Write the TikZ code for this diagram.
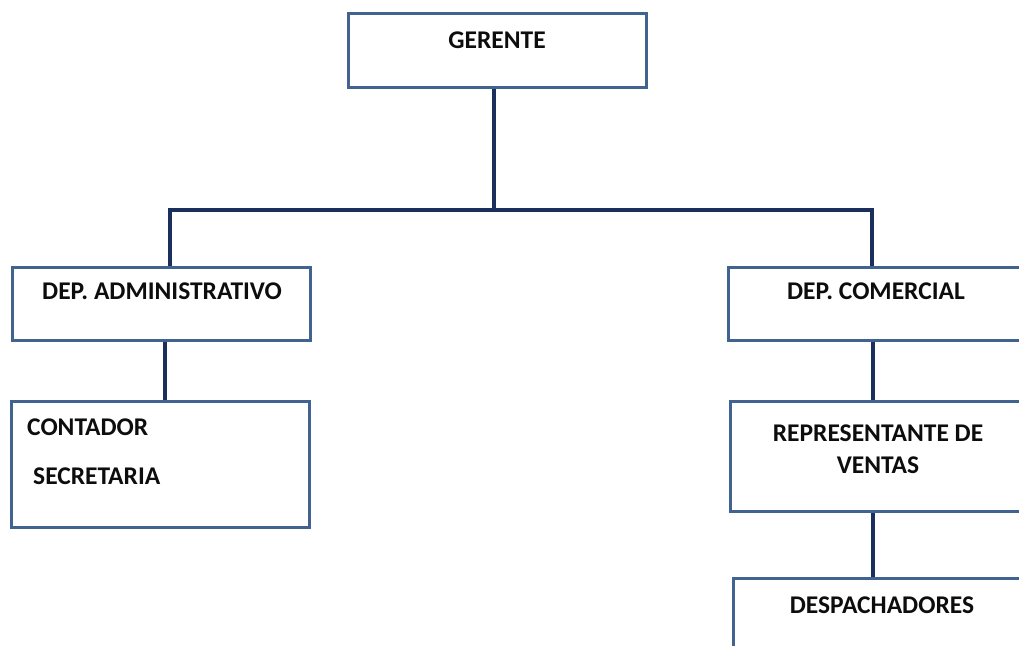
\documentclass[tikz,border=0pt]{standalone}
\usepackage{fontspec}
\setmainfont{Carlito}
\usepackage{tikz}

\definecolor{boxblue}{HTML}{41638F}
\definecolor{linknavy}{HTML}{1B2F5C}

\begin{document}
\begin{tikzpicture}
					[x=1pt,y=-1pt,
					box/.style={rectangle,draw=boxblue,line width=3pt,fill=white,minimum width=298pt,inner sep=0pt},
					txt/.style={font=\bfseries\fontsize{25.5}{32}\selectfont,text=black!95,inner sep=0pt},
					link/.style={draw=linknavy,line width=3.5pt}]
					\clip (0,0) rectangle (1019,645);
					\node[box,minimum height=74pt] (ger) at (497,50) {};
					\node[box,minimum height=73pt] (adm) at (161,303.5) {};
					\node[box,minimum height=126pt] (cont) at (160.5,464) {};
					\node[box,minimum height=73pt] (com) at (877,303.5) {};
					\node[box,minimum height=110pt] (rep) at (879,456) {};
					\node[box,minimum height=120pt] (desp) at (882,638) {};
					\node[txt] (tger) at (497,40) {GERENTE};
					\node[txt] (tadm) at (162,291) {DEP. ADMINISTRATIVO};
					\node[txt,anchor=west] (tcont) at (27,427) {CONTADOR};
					\node[txt,anchor=west] (tsec) at (33,476) {SECRETARIA};
					\node[txt] (tcom) at (876,291) {DEP. COMERCIAL};
					\node[txt,align=center] (trep) at (878,449) {REPRESENTANTE DE\\VENTAS};
					\node[txt] (tdesp) at (882,605) {DESPACHADORES};
					\coordinate (jn) at (494,210);
					\coordinate (jl) at (170,210);
					\coordinate (jr) at (872,210);
					\path[link] ([xshift=-3pt]ger.south) -- (jn);
					\path[link,line cap=rect] (jl) -- (jr);
					\path[link] (jl) -- (jl |- adm.north);
					\path[link] (jr) -- (jr |- com.north);
					\path[link] ([xshift=4pt]adm.south) -- ([xshift=4pt]adm.south |- cont.north);
					\path[link] ([xshift=-4pt]com.south) -- ([xshift=-4pt]com.south |- rep.north);
					\path[link] ([xshift=-6pt]rep.south) -- ([xshift=-6pt]rep.south |- desp.north);
\end{tikzpicture}
\end{document}
